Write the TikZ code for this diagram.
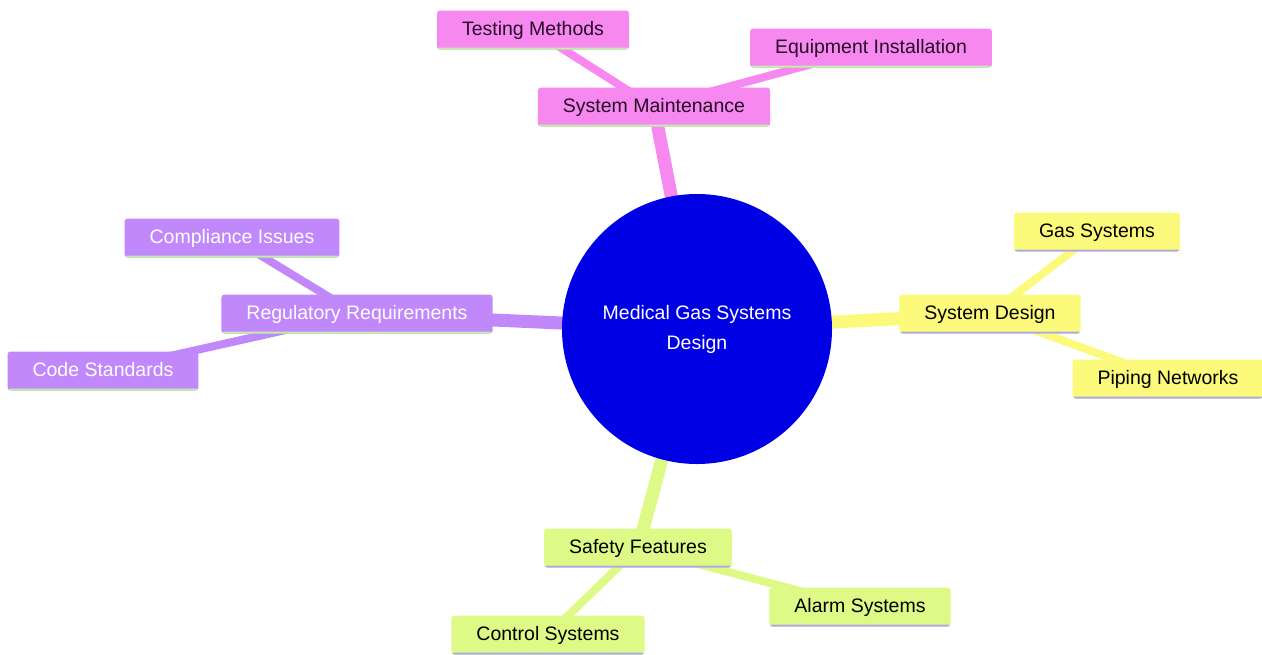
\documentclass[tikz,border=0pt]{standalone}
\usepackage{fontspec}
\setmainfont{Liberation Sans}
\pgfdeclarelayer{bg}
\pgfsetlayers{bg,main}
\definecolor{rootblue}{RGB}{0,0,228}
\definecolor{mpink}{RGB}{246,136,240}
\definecolor{mpurple}{RGB}{192,136,250}
\definecolor{myellow}{RGB}{252,250,122}
\definecolor{mgreen}{RGB}{222,250,134}
\definecolor{lgreen}{RGB}{190,240,170}
\definecolor{lviolet}{RGB}{176,170,230}
\definecolor{darkink}{RGB}{40,10,40}

\begin{document}
\begin{tikzpicture}[x=1pt,y=-1pt]
   \tikzset{box/.style n args={3}{fill=#1, text=#2, rounded corners=3pt, minimum height=39pt, inner xsep=25pt,
       text height=14pt, text depth=4pt, font=\fontsize{19.5}{22}\selectfont,
       path picture={\fill[#3] ([yshift=-1pt]path picture bounding box.south west) rectangle ([yshift=2pt]path picture bounding box.south east);}},
     trunk/.style={line width=13pt, #1},
     twig/.style={line width=8pt, #1}};
   \useasboundingbox (0,0) rectangle (1262,654);

\node[circle, fill=rootblue, minimum size=270pt, text=white, align=center, font=\fontsize{19.5}{30}\selectfont] (root) at (697,329) {Medical Gas Systems\\Design};

\node[box={mpink}{darkink}{lgreen}] (maint) at (654,107) {System Maintenance};
\node[box={mpink}{darkink}{lgreen}] (test) at (533,30) {Testing Methods};
\node[box={mpink}{darkink}{lgreen}] (equip) at (871,48) {Equipment Installation};

\node[box={mpurple}{white}{lgreen}] (reg) at (357,314) {Regulatory Requirements};
\node[box={mpurple}{white}{lgreen}] (comp) at (232,238) {Compliance Issues};
\node[box={mpurple}{white}{lgreen}] (code) at (103,371) {Code Standards};

\node[box={myellow}{black}{lviolet}] (design) at (990,314) {System Design};
\node[box={myellow}{black}{lviolet}] (gas) at (1097,232) {Gas Systems};
\node[box={myellow}{black}{lviolet}] (pipe) at (1168,379) {Piping Networks};

\node[box={mgreen}{black}{lviolet}] (safe) at (638,548) {Safety Features};
\node[box={mgreen}{black}{lviolet}] (ctrl) at (548,635) {Control Systems};
\node[box={mgreen}{black}{lviolet}] (alarm) at (860,607) {Alarm Systems};

\begin{pgfonlayer}{bg}
\draw[trunk=mpink] (root.center) -- (maint.center);
\draw[trunk=mpurple] (root.center) -- (reg.center);
\draw[trunk=myellow] (root.center) -- (design.center);
\draw[trunk=mgreen] (root.center) -- (safe.center);
\draw[twig=mpink] (maint.center) -- (test.center);
\draw[twig=mpink] (maint.center) -- (equip.center);
\draw[twig=mpurple] (reg.center) -- (comp.center);
\draw[twig=mpurple] (reg.center) -- (code.center);
\draw[twig=myellow] (design.center) -- (gas.center);
\draw[twig=myellow] (design.center) -- (pipe.center);
\draw[twig=mgreen] (safe.center) -- (ctrl.center);
\draw[twig=mgreen] (safe.center) -- (alarm.center);
\end{pgfonlayer}

\end{tikzpicture}
\end{document}
